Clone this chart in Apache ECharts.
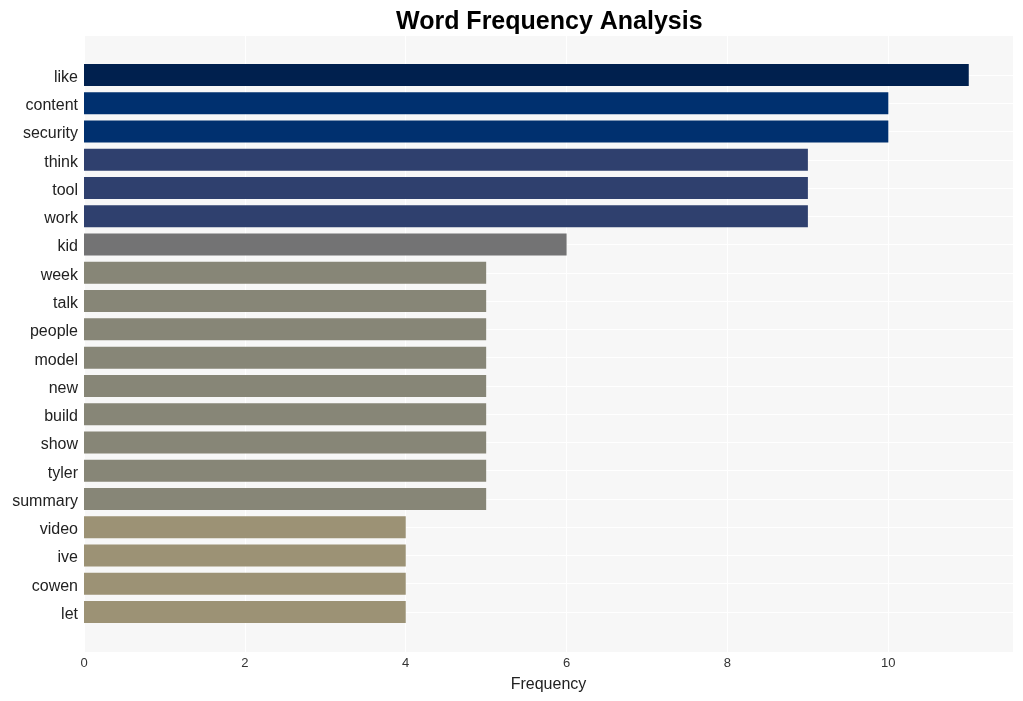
<!DOCTYPE html>
<html>
<head>
<meta charset="utf-8">
<script src="https://cdn.jsdelivr.net/npm/echarts@6/dist/echarts.min.js"></script>
<style>html,body{margin:0;padding:0;background:#fff;}#c{width:1023px;height:701px;}</style>
</head>
<body>
<div id="c"></div>
<script>
var words = ["like","content","security","think","tool","work","kid","week","talk","people","model","new","build","show","tyler","summary","video","ive","cowen","let"];
var counts = [11,10,10,9,9,9,6,5,5,5,5,5,5,5,5,5,4,4,4,4];
var barColors = ["#00204e","#00306f","#00306f","#2f406e","#2f406e","#2f406e","#737374","#878677","#878677","#878677","#878677","#878677","#878677","#878677","#878677","#878677","#9c9275","#9c9275","#9c9275","#9c9275"];
var xTicks = [0,2,4,6,8,10];

var chart = echarts.init(document.getElementById('c'));
var font = "'Liberation Sans', Arial, sans-serif";
chart.setOption({
  animation: false,
  textStyle: {fontFamily: font},
  title: {
    text: 'Word Frequency Analysis',
    left: 391, top: 5,
    textStyle: {fontSize: 25, fontWeight: 'bold', color: '#000', fontFamily: font}
  },
  grid: [
    {left: 84, right: 10, top: 36, bottom: 49, show: true, backgroundColor: '#f7f7f7', borderWidth: 0},
    {left: 84, right: 10, top: 75, bottom: 89, show: false}
  ],
  xAxis: [
    {gridIndex: 0, type: 'value', min: 0, max: 11.55, interval: 2,
     axisLine: {show: false}, axisTick: {show: false},
     axisLabel: {fontSize: 13, color: '#333', margin: 5, fontFamily: font,
       formatter: function (v) { return xTicks.indexOf(v) >= 0 ? String(v) : ''; }},
     splitLine: {show: true, lineStyle: {color: '#ffffff', width: 1}},
     name: 'Frequency', nameLocation: 'middle', nameGap: 25,
     nameTextStyle: {fontSize: 16, color: '#222', fontFamily: font}},
    {gridIndex: 1, type: 'value', min: 0, max: 11.55, show: false}
  ],
  yAxis: [
    {gridIndex: 0, type: 'value', min: 0, max: 1, show: false, splitLine: {show: false}},
    {gridIndex: 1, type: 'category', inverse: true, boundaryGap: false, data: words,
     axisLine: {show: false}, axisTick: {show: false},
     axisLabel: {margin: 6,
       formatter: function (v) { return '{a|' + v + '}'; },
       rich: {a: {fontSize: 16, color: '#222', fontFamily: font, padding: [5, 0, 0, 0]}}},
     splitLine: {show: true, lineStyle: {color: '#ffffff', width: 1}}}
  ],
  series: [{
    type: 'bar', xAxisIndex: 1, yAxisIndex: 1, barWidth: 22,
    data: counts.map(function (v, i) { return {value: v, itemStyle: {color: barColors[i]}}; })
  }]
});
</script>
</body>
</html>
